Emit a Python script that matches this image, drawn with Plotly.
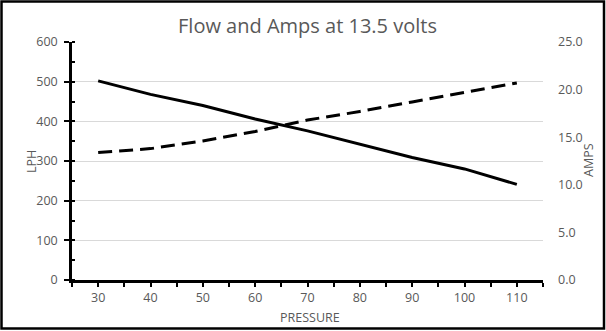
import plotly.graph_objects as go

pressure = [30, 40, 50, 60, 70, 80, 90, 100, 110]
flow_lph = [502, 468, 440, 406, 376, 343, 309, 280, 241]
amps = [13.4, 13.8, 14.6, 15.6, 16.8, 17.7, 18.7, 19.7, 20.7]

title_text = "Flow and Amps at 13.5 volts"
x_title = "PRESSURE"
y1_title = "LPH"
y2_title = "AMPS"

W, H = 606, 331
L, R, T, B = 72, 63, 42, 51
pw, ph = W - L - R, H - T - B

def px(x):
    return (x - L) / pw

def py(y):
    return (H - B - y) / ph

gray = "#595959"
font = "'Open Sans', sans-serif"

fig = go.Figure()
fig.add_trace(go.Scatter(x=pressure, y=flow_lph, mode="lines", yaxis="y",
                         line=dict(color="black", width=3), showlegend=False))
fig.add_trace(go.Scatter(x=pressure, y=amps, mode="lines", yaxis="y2",
                         line=dict(color="black", width=3, dash="14px,7px"), showlegend=False))

fig.update_layout(
    width=W, height=H,
    margin=dict(l=L, r=R, t=T, b=B),
    paper_bgcolor="white", plot_bgcolor="white",
    font=dict(family=font, color=gray, size=12),
    title=dict(text=title_text, x=0.5, xref="paper", y=1 - 26 / H, yref="container",
               xanchor="center", yanchor="middle", font=dict(size=20, color=gray, family=font)),
    xaxis=dict(range=[25, 115], tickvals=pressure, ticktext=[str(p) for p in pressure],
               ticks="outside", ticklen=4, tickwidth=2, tickcolor="black",
               minor=dict(tickvals=[25, 35, 45, 55, 65, 75, 85, 95, 105, 115], ticks="outside",
                          ticklen=4, tickwidth=2, tickcolor="black"),
               showline=True, linecolor="black", linewidth=2.5, showgrid=False, zeroline=False,
               tickfont=dict(size=12.5, color=gray), fixedrange=True),
    yaxis=dict(range=[0, 600], dtick=100, ticks="outside", ticklen=5, tickwidth=2,
               tickcolor="black", showline=True, linecolor="black", linewidth=2.5,
               showgrid=True, gridcolor="#d9d9d9", gridwidth=1, zeroline=False,
               minor=dict(dtick=50, ticks="inside", ticklen=3, tickwidth=2, tickcolor="black",
                          showgrid=False),
               tickfont=dict(size=12.5, color=gray), ticklabelstandoff=4),
    yaxis2=dict(range=[0, 25], dtick=5, tickformat=".1f", overlaying="y", side="right",
                showline=False, showgrid=False, zeroline=False, ticks="",
                tickfont=dict(size=12.5, color=gray), ticklabelstandoff=14),
)

fig.add_annotation(text=x_title, x=px(310), y=py(318), xref="paper", yref="paper",
                   showarrow=False, font=dict(size=12.5, color=gray), xanchor="center", yanchor="middle")
fig.add_annotation(text=y1_title, x=px(31), y=py(162), xref="paper", yref="paper", textangle=-90,
                   showarrow=False, font=dict(size=12.5, color=gray), xanchor="center", yanchor="middle")
fig.add_annotation(text=y2_title, x=px(588), y=py(160), xref="paper", yref="paper", textangle=-90,
                   showarrow=False, font=dict(size=12.5, color=gray), xanchor="center", yanchor="middle")

fig.add_shape(type="rect", xref="paper", yref="paper",
              x0=px(1.5), x1=px(604), y0=py(328.5), y1=py(1.5),
              line=dict(color="black", width=2.5), fillcolor="rgba(0,0,0,0)", layer="above")

fig.write_html("out.html")
